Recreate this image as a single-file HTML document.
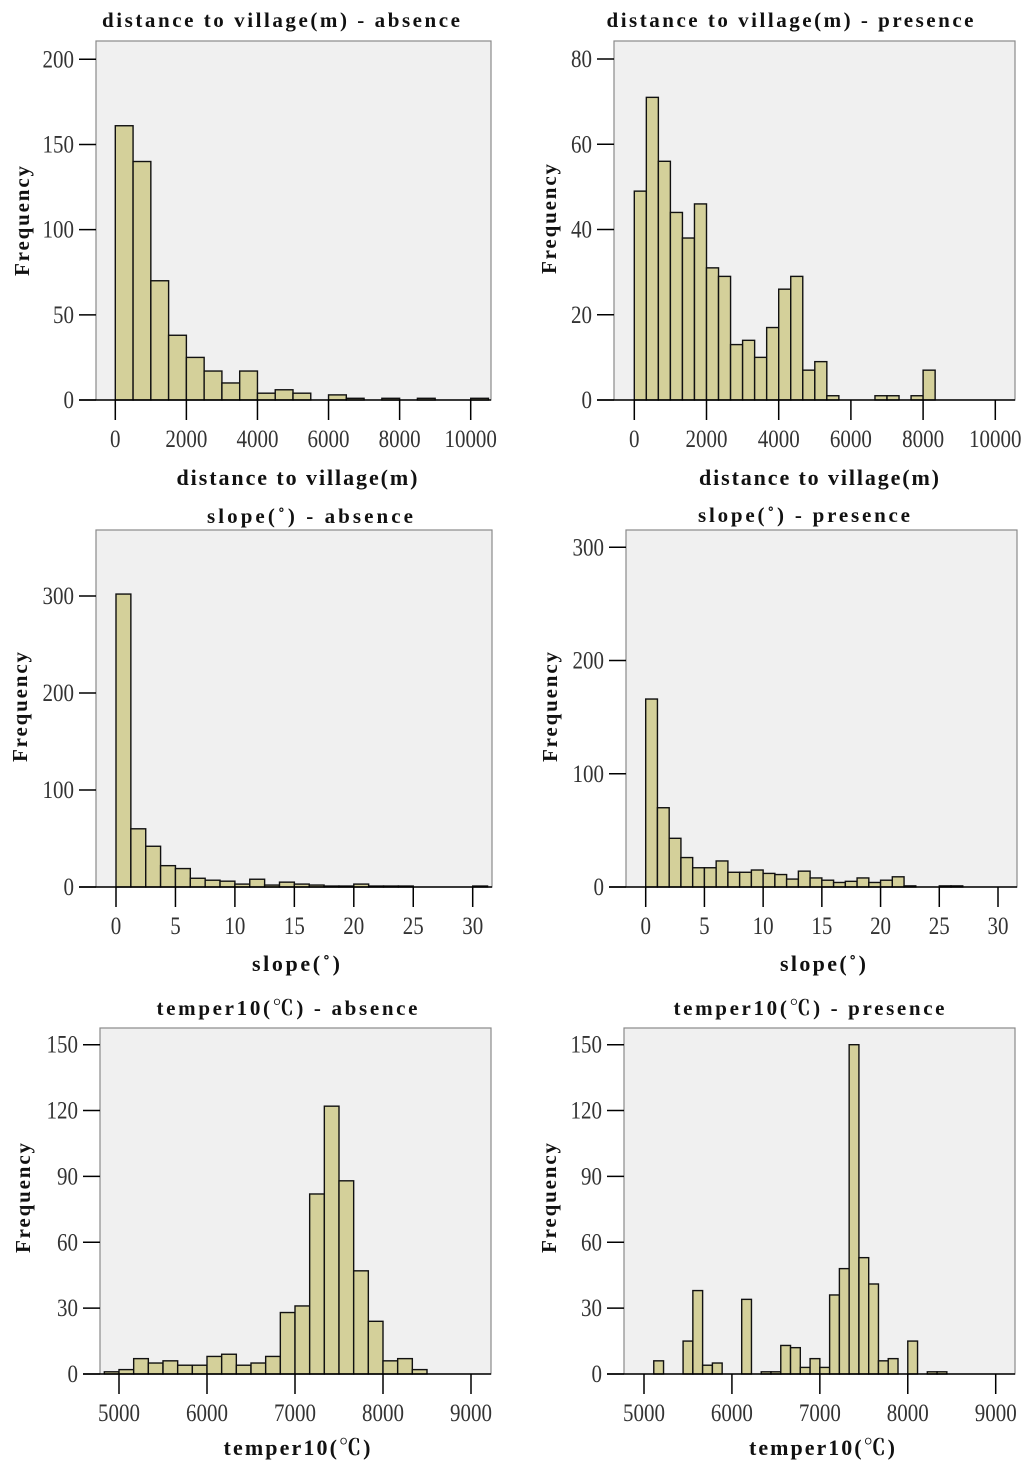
<!DOCTYPE html>
<html><head><meta charset="utf-8">
<style>
html,body{margin:0;padding:0;background:#fff;}
svg{display:block;}
.t{font-family:"Liberation Serif","Noto Serif CJK SC",serif;}
</style></head>
<body>
<svg id="fig" width="1024" height="1467" viewBox="0 0 1024 1467" xmlns="http://www.w3.org/2000/svg"></svg>
<script>
// ---- data (bin starts, bin width, counts) ----
const distAbsStart = 0, distAbsWidth = 500;
const distAbsCounts = [161,140,70,38,25,17,10,17,4,6,4,0,3,1,0,1,0,1,0,0,1];
const distAbsYTicks = [0,50,100,150,200];
const distAbsXTicks = [0,2000,4000,6000,8000,10000];

const distPresStart = 0, distPresWidth = 1000/3;
const distPresCounts = [49,71,56,44,38,46,31,29,13,14,10,17,26,29,7,9,1,0,0,0,1,1,0,1,7];
const distPresYTicks = [0,20,40,60,80];
const distPresXTicks = [0,2000,4000,6000,8000,10000];

const slopeAbsStart = 0, slopeAbsWidth = 1.25;
const slopeAbsCounts = [302,60,42,22,19,9,7,6,3,8,2,5,3,2,1,1,3,1,1,1,0,0,0,0,1];
const slopeAbsYTicks = [0,100,200,300];
const slopeAbsXTicks = [0,5,10,15,20,25,30];

const slopePresStart = 0, slopePresWidth = 1;
const slopePresCounts = [166,70,43,26,17,17,23,13,13,15,12,11,7,14,8,6,4,5,8,4,6,9,1,0,0,1,1];
const slopePresYTicks = [0,100,200,300];
const slopePresXTicks = [0,5,10,15,20,25,30];

const tempAbsStart = 5000-1000/6, tempAbsWidth = 1000/6;
const tempAbsCounts = [1,2,7,5,6,4,4,8,9,4,5,8,28,31,82,122,88,47,24,6,7,2];
const tempAbsYTicks = [0,30,60,90,120,150];
const tempAbsXTicks = [5000,6000,7000,8000,9000];

const tempPresStart = 5000+1000/9, tempPresWidth = 1000/9;
const tempPresCounts = [6,0,0,15,38,4,5,0,0,34,0,1,1,13,12,3,7,3,36,48,150,53,41,6,7,0,15,0,1,1];
const tempPresYTicks = [0,30,60,90,120,150];
const tempPresXTicks = [5000,6000,7000,8000,9000];

// ---- layout ----
const panels = [
 {id:'dist-absence', start:distAbsStart, width:distAbsWidth, counts:distAbsCounts, yt:distAbsYTicks, xt:distAbsXTicks,
  box:[96,41,491,400], x0:0,x0p:115.3,x1:10000,x1p:470.7, y1:200,y1p:59.3,
  title:'distance to village(m) - absence', tx:281,ty:27,tw:358, xl:'distance to village(m)', xlx:297,xly:485,xlw:241, fx:29, fy:221},
 {id:'dist-presence', start:distPresStart, width:distPresWidth, counts:distPresCounts, yt:distPresYTicks, xt:distPresXTicks,
  box:[614,41,1015,400], x0:0,x0p:634.3,x1:10000,x1p:995.3, y1:80,y1p:59,
  title:'distance to village(m) - presence', tx:790,ty:27,tw:367, xl:'distance to village(m)', xlx:819,xly:485,xlw:240, fx:556, fy:219},
 {id:'slope-absence', start:slopeAbsStart, width:slopeAbsWidth, counts:slopeAbsCounts, yt:slopeAbsYTicks, xt:slopeAbsXTicks,
  box:[96,530,492,887], x0:0,x0p:116,x1:30,x1p:472.7, y1:300,y1p:596,
  title:'slope(˚) - absence', tx:310,ty:523,tw:206, xl:'slope(˚)', xlx:296,xly:971,xlw:88, fx:27, fy:707},
 {id:'slope-presence', start:slopePresStart, width:slopePresWidth, counts:slopePresCounts, yt:slopePresYTicks, xt:slopePresXTicks,
  box:[626,530,1017,887], x0:0,x0p:645.7,x1:30,x1p:998, y1:300,y1p:547.3,
  title:'slope(˚) - presence', tx:804,ty:522,tw:212, xl:'slope(˚)', xlx:823,xly:971,xlw:86, fx:557, fy:707},
 {id:'temper-absence', start:tempAbsStart, width:tempAbsWidth, counts:tempAbsCounts, yt:tempAbsYTicks, xt:tempAbsXTicks,
  box:[100,1028,491,1374], x0:5000,x0p:119,x1:9000,x1p:471, y1:150,y1p:1044.7,
  title:'temper10(℃) - absence', tx:287,ty:1015,tw:261, xl:'temper10(℃)', xlx:297,xly:1455,xlw:147, fx:30, fy:1198},
 {id:'temper-presence', start:tempPresStart, width:tempPresWidth, counts:tempPresCounts, yt:tempPresYTicks, xt:tempPresXTicks,
  box:[624,1028,1015,1374], x0:5000,x0p:644,x1:9000,x1p:995.7, y1:150,y1p:1044.7,
  title:'temper10(℃) - presence', tx:809,ty:1015,tw:271, xl:'temper10(℃)', xlx:822,xly:1455,xlw:146, fx:556, fy:1198}
];

const NS='http://www.w3.org/2000/svg';
const svg=document.getElementById('fig');
function mk(tag, attrs, parent, txt){
  const e=document.createElementNS(NS,tag);
  for(const k in attrs) e.setAttribute(k,attrs[k]);
  if(txt!==undefined) e.textContent=txt;
  (parent||svg).appendChild(e);
  return e;
}

panels.forEach(p=>{
  const g=mk('g',{});
  
  
  const [L,T,R,B]=p.box;
  const sx=v=>p.x0p+(v-p.x0)*(p.x1p-p.x0p)/(p.x1-p.x0);
  const sy=v=>B+(v)*(p.y1p-B)/p.y1;
  const bg=mk('rect',{x:L,y:T,width:R-L,height:B-T,fill:'#f0f0f0',stroke:'#8a8a8a','stroke-width':1.2},g);
  
  
  p.counts.forEach((c,i)=>{
    if(c<=0) return;
    const xa=sx(p.start+i*p.width), xb=sx(p.start+(i+1)*p.width);
    const r=mk('rect',{x:xa,y:sy(c),width:xb-xa,height:B-sy(c),fill:'#d4d09a',stroke:'#111','stroke-width':1.4},g);
    
    
  });
  const ax=mk('line',{x1:L-17,y1:B,x2:R,y2:B,stroke:'#000','stroke-width':1.5},g);
  
  
  p.yt.forEach(v=>{
    const y=sy(v);
    mk('line',{x1:L-17,y1:y,x2:L,y2:y,stroke:'#000','stroke-width':1.5},g);
    const t=mk('text',{x:L-22,y:0,'text-anchor':'end','font-size':21,fill:'#333',class:'t',transform:'translate(0 '+(y+8)+') scale(1 1.2)'},g,String(v));
    
    
  });
  p.xt.forEach(v=>{
    const x=sx(v);
    mk('line',{x1:x,y1:B,x2:x,y2:B+20,stroke:'#000','stroke-width':1.5},g);
    const t=mk('text',{x:x,y:0,'text-anchor':'middle','font-size':21,fill:'#333',class:'t',transform:'translate(0 '+(B+47)+') scale(1 1.2)'},g,String(v));
    
    
  });
  const ti=mk('text',{x:p.tx,y:p.ty,'text-anchor':'middle','font-size':21,'font-weight':'bold',fill:'#111',class:'t',textLength:p.tw,lengthAdjust:'spacing'},g,p.title);
  
  
  const xl=mk('text',{x:p.xlx,y:p.xly,'text-anchor':'middle','font-size':22,'font-weight':'bold',fill:'#111',class:'t',textLength:p.xlw,lengthAdjust:'spacing'},g,p.xl);
  
  
  const fl=mk('text',{x:p.fx,y:p.fy,'text-anchor':'middle','font-size':21,'font-weight':'bold',fill:'#111',class:'t',transform:'rotate(-90 '+p.fx+' '+p.fy+')',textLength:110,lengthAdjust:'spacing'},g,'Frequency');
  
  
});
</script>
</body></html>
